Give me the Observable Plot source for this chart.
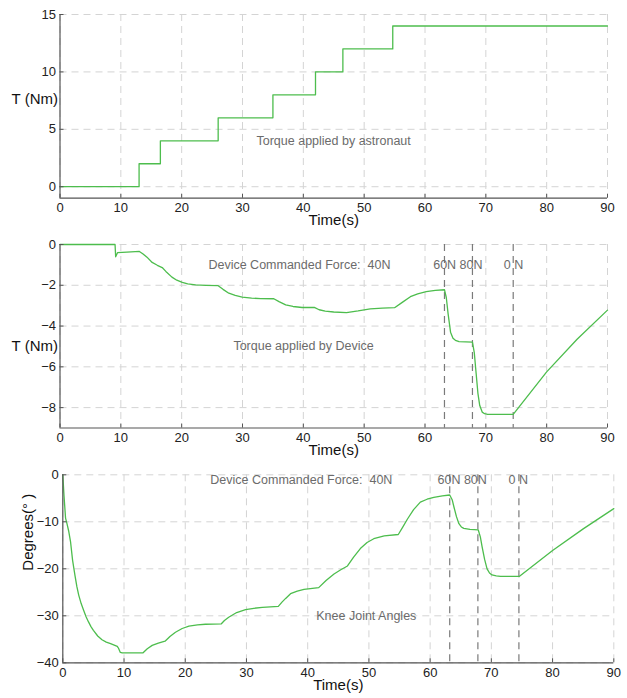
<!DOCTYPE html>
<html><head><meta charset="utf-8">
<script src="https://cdn.jsdelivr.net/npm/d3@7"></script>
<script src="https://cdn.jsdelivr.net/npm/@observablehq/plot@0.6"></script>
<style>
body{margin:0;background:#fff;}
#chart{width:627px;height:698px;position:relative;}
#chart svg{display:block;}
</style></head><body><div id="chart"></div>
<script>
// ---- data ----
const xTicks = [0, 10, 20, 30, 40, 50, 60, 70, 80, 90];

// Panel 1: torque applied by astronaut (step function)
const astroTime   = [0, 13, 16.5, 26, 35, 42, 46.5, 54.7, 90];
const astroTorque = [0, 2, 4, 6, 8, 10, 12, 14, 14];
const astroTicks  = [0, 5, 10, 15];

// Panel 2: torque applied by device
const deviceTime   = [0, 9.05, 9.15, 9.45, 11, 13.05, 13.6, 14.3, 15.15, 16, 16.8, 17.4, 18.4, 19.2, 20.1, 21, 22.3, 24, 26, 26.8, 27.75, 28.8, 29.95, 31.5, 33, 35.15, 36, 37.1, 38.3, 39.8, 41.8, 42.6, 43.6, 45, 47.1, 49, 51, 53, 55, 56.2, 57.6, 58.8, 60.2, 61.7, 63.2, 63.5, 63.8, 64.2, 64.6, 65, 65.6, 67.8, 68.1, 68.4, 68.7, 69, 69.4, 69.8, 70.3, 74.5, 80, 85, 90];
const deviceTorque = [0, 0, -0.6, -0.4, -0.37, -0.34, -0.45, -0.62, -0.88, -1.02, -1.13, -1.32, -1.6, -1.75, -1.86, -1.93, -1.98, -2.0, -2.02, -2.2, -2.39, -2.5, -2.58, -2.63, -2.65, -2.66, -2.8, -2.96, -3.04, -3.09, -3.08, -3.2, -3.27, -3.31, -3.34, -3.26, -3.16, -3.12, -3.1, -2.85, -2.56, -2.42, -2.31, -2.25, -2.22, -2.6, -3.4, -4.3, -4.6, -4.7, -4.76, -4.79, -5.3, -6.3, -7.3, -7.9, -8.22, -8.3, -8.33, -8.33, -6.25, -4.65, -3.22];
const deviceTicks  = [0, -2, -4, -6, -8];

// Panel 3: knee joint angles
const kneeTime  = [0, 0.2, 0.45, 0.7, 0.95, 1.26, 1.6, 2.0, 2.3, 2.6, 3.0, 3.4, 3.8, 4.2, 4.6, 5.0, 5.7, 6.4, 7.1, 7.8, 8.9, 9.1, 9.4, 9.7, 13.07, 13.8, 14.6, 15.6, 16.7, 17.5, 18.4, 19.5, 20.6, 22, 23.3, 25.9, 26.4, 27.1, 28.4, 29.85, 31.2, 32.6, 35.2, 35.8, 36.4, 37.2, 38.3, 39.4, 41.8, 43, 44.3, 45.4, 46.5, 47.5, 48.6, 49.7, 50.8, 52.5, 54.8, 55.5, 56.3, 57.3, 58.4, 59.5, 60.6, 62, 63.2, 63.6, 63.9, 64.3, 64.7, 65.1, 65.5, 66.5, 67.85, 68.2, 68.5, 68.9, 69.3, 69.7, 70.1, 70.8, 71.5, 74.6, 80, 85, 90];
const kneeAngle = [0, -4.5, -9.2, -10.5, -11.9, -14.2, -18.2, -21.5, -23.8, -25.6, -27.4, -28.8, -30.2, -31.3, -32.3, -33.1, -34.3, -35.1, -35.6, -35.9, -36.5, -36.9, -37.8, -37.9, -37.9, -37.0, -36.3, -35.8, -35.4, -34.4, -33.5, -32.7, -32.2, -31.95, -31.8, -31.7, -31.0, -30.3, -29.3, -28.7, -28.4, -28.2, -28.0, -27.1, -26.3, -25.3, -24.75, -24.4, -24.0, -22.5, -21.1, -20.2, -19.4, -17.5, -15.7, -14.4, -13.6, -13.0, -12.7, -11.2, -9.4, -7.4, -5.8, -5.2, -4.8, -4.5, -4.3, -5.3, -6.9, -8.9, -10.4, -11.1, -11.4, -11.6, -11.7, -13.2, -15.4, -18.0, -20.0, -20.9, -21.3, -21.5, -21.6, -21.6, -16.1, -11.5, -7.2];
const kneeTicks = [0, -10, -20, -30, -40];

// Device commanded force change times and labels
const forceTimes  = [63.2, 67.8, 74.5];
const forceLabels = ["Device Commanded Force:\u00a0 40N", "60N 80N", "0 N"];

// ---- style ----
const FONT = "'Liberation Sans', Arial, Helvetica, sans-serif";
const GREEN = "#4dbd4d";
const GRID = "#d4d4d4";
const AXIS = "#555";
const NOTE = "#6b6b6b";
const blank = () => "";

function panel({height, marginTop, marginBottom, marginLeft, marginRight, yDomain, yTicks, marks}) {
  return Plot.plot({
    width: 627, height, marginTop, marginBottom, marginLeft, marginRight,
    style: {fontFamily: FONT, fontSize: "13px", color: "#222", background: "transparent", overflow: "visible"},
    x: {domain: [0, 90]},
    y: {domain: yDomain},
    marks: [
      Plot.gridX(xTicks, {stroke: GRID, strokeOpacity: 1, strokeDasharray: "7,5"}),
      Plot.gridY(yTicks, {stroke: GRID, strokeOpacity: 1, strokeDasharray: "7,5"}),
      ...marks,
      Plot.ruleX([0], {stroke: AXIS, strokeWidth: 1.2}),
      Plot.ruleY([yDomain[0]], {stroke: AXIS, strokeWidth: 1.2}),
      Plot.axisX(xTicks, {tickSize: -4, tickFormat: blank, label: null, stroke: AXIS}),
      Plot.axisX(xTicks, {tickSize: 0, tickPadding: 5, label: null, fontSize: 13, fill: "#222"}),
      Plot.axisY(yTicks, {tickSize: -4, tickFormat: blank, label: null, stroke: AXIS}),
      Plot.axisY(yTicks, {tickSize: 0, tickPadding: 4, label: null, fontSize: 13, fill: "#222"}),
      Plot.text(["Time(s)"], {frameAnchor: "bottom", dy: 27, fontSize: 15, fill: "#111"})
    ]
  });
}

const p1 = panel({
  height: 234, marginTop: 14, marginBottom: 36.3, marginLeft: 59.5, marginRight: 20,
  yDomain: [-1, 15], yTicks: astroTicks,
  marks: [
    Plot.line(astroTorque, {x: astroTime, y: astroTorque, curve: "step-after", stroke: GREEN, strokeWidth: 1.3}),
    Plot.text(["Torque applied by astronaut"], {x: 32.3, y: 4, textAnchor: "start", fontSize: 12.5, fill: NOTE}),
    Plot.text(["T (Nm)"], {x: 0, y: 7.66, textAnchor: "end", dx: -2, fontSize: 15, fill: "#111"})
  ]
});

const p2 = panel({
  height: 232, marginTop: 10, marginBottom: 38.5, marginLeft: 59.5, marginRight: 20,
  yDomain: [-9, 0], yTicks: deviceTicks,
  marks: [
    Plot.ruleX(forceTimes, {stroke: "#7a7a7a", strokeWidth: 1.2, strokeDasharray: "7,5"}),
    Plot.line(deviceTorque, {x: deviceTime, y: deviceTorque, curve: "linear", stroke: GREEN, strokeWidth: 1.3}),
    Plot.text([forceLabels[0]], {x: 24.4, y: -1.0, textAnchor: "start", fontSize: 12.5, fill: NOTE}),
    Plot.text([forceLabels[1]], {x: 61.35, y: -1.0, textAnchor: "start", fontSize: 12.5, fill: NOTE}),
    Plot.text([forceLabels[2]], {x: 72.96, y: -1.0, textAnchor: "start", fontSize: 12.5, fill: NOTE}),
    Plot.text(["Torque applied by Device"], {x: 28.5, y: -5, textAnchor: "start", fontSize: 12.5, fill: NOTE}),
    Plot.text(["T (Nm)"], {x: 0, y: -5, textAnchor: "end", dx: -2, fontSize: 15, fill: "#111"})
  ]
});

const p3 = panel({
  height: 232, marginTop: 8.3, marginBottom: 35.7, marginLeft: 62.3, marginRight: 13.7,
  yDomain: [-40, 0], yTicks: kneeTicks,
  marks: [
    Plot.ruleX(forceTimes, {stroke: "#7a7a7a", strokeWidth: 1.2, strokeDasharray: "7,5"}),
    Plot.line(kneeAngle, {x: kneeTime, y: kneeAngle, curve: "linear", stroke: GREEN, strokeWidth: 1.3}),
    Plot.text([forceLabels[0]], {x: 24.1, y: -1.0, textAnchor: "start", fontSize: 12.5, fill: NOTE}),
    Plot.text([forceLabels[1]], {x: 61.2, y: -1.0, textAnchor: "start", fontSize: 12.5, fill: NOTE}),
    Plot.text([forceLabels[2]], {x: 72.8, y: -1.0, textAnchor: "start", fontSize: 12.5, fill: NOTE}),
    Plot.text(["Knee Joint Angles"], {x: 41.4, y: -30, textAnchor: "start", fontSize: 12.5, fill: NOTE}),
    Plot.text(["Degrees(° )"], {frameAnchor: "left", y: -20.4, dx: -35, rotate: -90, fontSize: 15, fill: "#111"})
  ]
});

const root = document.getElementById("chart");
root.append(p1, p2, p3);
</script>
</body></html>
